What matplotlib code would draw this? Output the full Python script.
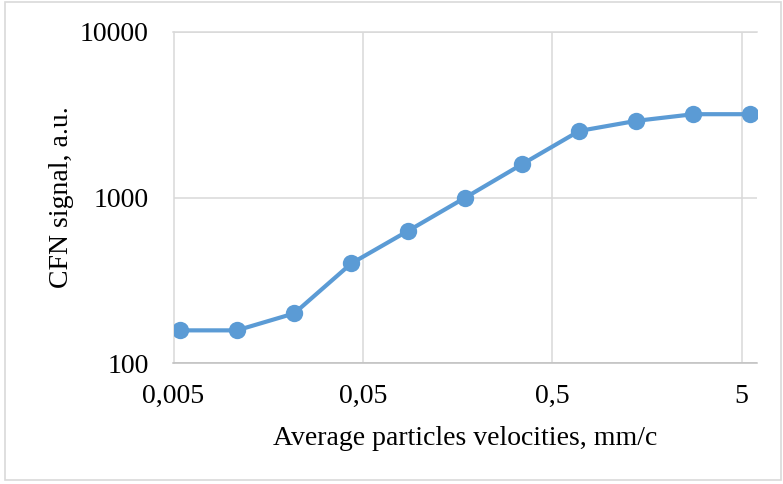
import matplotlib.pyplot as plt
from matplotlib.patches import Rectangle
from matplotlib.ticker import NullLocator

plt.rcParams['font.family'] = ['Liberation Serif', 'DejaVu Serif']

# average particle velocity, mm/c  and  CFN signal, a.u.
velocity = [0.0054, 0.0108, 0.0217, 0.0434, 0.0868, 0.174, 0.347, 0.694, 1.39, 2.78, 5.55]
signal = [158, 158, 200, 400, 630, 1000, 1590, 2520, 2900, 3180, 3180]

x_ticks = [0.005, 0.05, 0.5, 5]
x_tick_labels = ['0,005', '0,05', '0,5', '5']
y_ticks = [100, 1000, 10000]
y_tick_labels = ['100', '1000', '10000']

fig = plt.figure(figsize=(7.83, 4.84), dpi=100)
ax = fig.add_axes([173.5 / 783, 1 - 363.3 / 484, (757 - 173.5) / 783, (363.3 - 31.7) / 484])

ax.plot(velocity, signal, color='#5B9BD5', lw=3, marker='o', ms=12.5,
        markeredgewidth=0, zorder=3)

ax.set_xscale('log')
ax.set_yscale('log')
ax.set_xlim(0.005, 6.02)
ax.set_ylim(100, 10000)

ax.set_xticks(x_ticks)
ax.set_xticklabels(x_tick_labels)
ax.set_yticks(y_ticks)
ax.set_yticklabels(y_tick_labels)
ax.xaxis.set_minor_locator(NullLocator())
ax.yaxis.set_minor_locator(NullLocator())
ax.tick_params(axis='both', length=0, labelsize=20)
ax.tick_params(axis='x', pad=15)
ax.tick_params(axis='y', pad=18)

ax.grid(True, color='#D9D9D9', lw=1.1)
for side in ['left', 'top', 'bottom']:
    ax.spines[side].set_color('#D9D9D9')
    ax.spines[side].set_linewidth(1.1)
ax.spines['bottom'].set_color('#BFBFBF')
ax.spines['right'].set_visible(False)

ax.set_xlabel('Average particles velocities, mm/c', fontsize=20, labelpad=12)
ax.set_ylabel('CFN signal, a.u.', fontsize=20, labelpad=4)

# thin frame around the whole chart
fig.patches.append(Rectangle((5 / 783, 4 / 484), 776 / 783, 478 / 484,
                             transform=fig.transFigure, fill=False,
                             edgecolor='#D9D9D9', lw=1.2))

fig.savefig('out.png', dpi=100)
